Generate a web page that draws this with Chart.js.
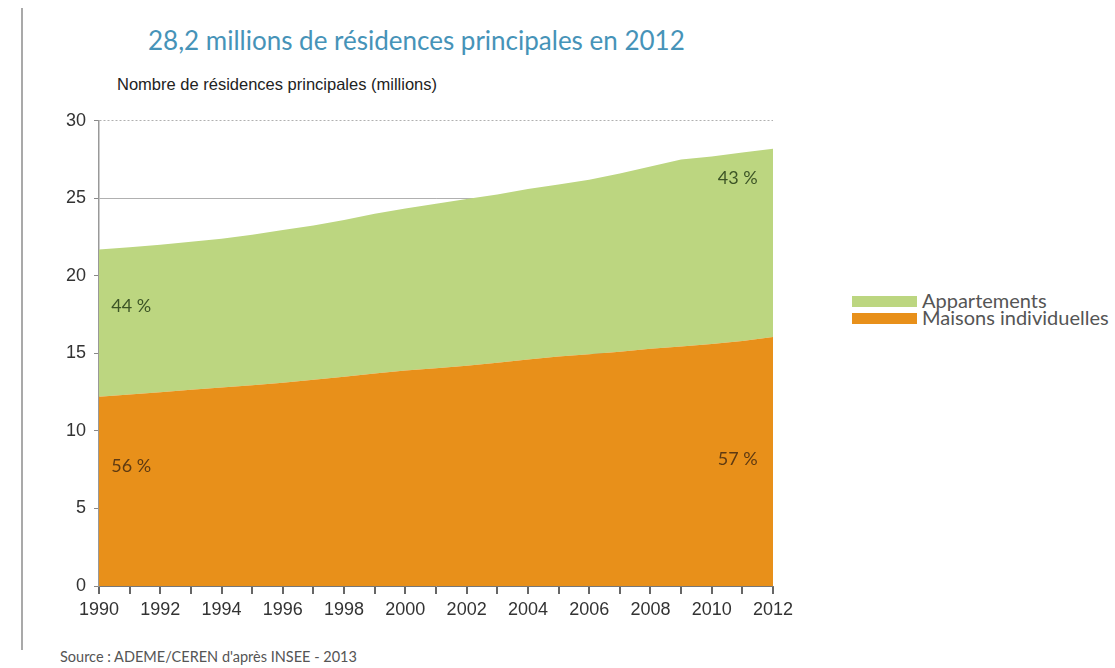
<!DOCTYPE html>
<html lang="fr">
<head>
<meta charset="utf-8">
<title>Résidences principales</title>
<script src="https://cdn.jsdelivr.net/npm/chart.js@4.4.1/dist/chart.umd.min.js"></script>
<style>
  html, body { margin: 0; padding: 0; background: #fff; }
  body { width: 1115px; height: 668px; position: relative; overflow: hidden; }
  .rule { position: absolute; left: 21px; top: 8px; width: 2px; height: 642px; background: #a9a9a9; }
  .title { position: absolute; left: 148px; top: 24px; font: 26px Lato, "Open Sans", sans-serif; color: #4693b8; white-space: nowrap; }
  .ytitle { position: absolute; left: 117px; top: 75px; font: 16.5px "Liberation Sans", Arial, sans-serif; color: #222; white-space: nowrap; }
  .source { position: absolute; left: 60px; top: 648px; font: 14.5px Lato, sans-serif; color: #555; white-space: nowrap; }
  .legend { position: absolute; left: 852px; top: 292px; font: 20px Lato, sans-serif; color: #555; }
  .legend div { height: 17px; line-height: 17px; white-space: nowrap; }
  .legend span { display: inline-block; width: 65px; height: 11px; margin-right: 5px; vertical-align: 1px; }
  #wrap { position: absolute; left: 40px; top: 102px; width: 780px; height: 524px; }
</style>
</head>
<body>
<div class="rule"></div>
<div class="title">28,2 millions de résidences principales en 2012</div>
<div class="ytitle">Nombre de résidences principales (millions)</div>
<div id="wrap"><canvas id="chart"></canvas></div>
<div class="legend">
  <div><span style="background:#bcd680"></span>Appartements</div>
  <div><span style="background:#e8901a"></span>Maisons individuelles</div>
</div>
<div class="source">Source : ADEME/CEREN d'après INSEE - 2013</div>

<script>
const years = ['1990','1991','1992','1993','1994','1995','1996','1997','1998','1999','2000',
  '2001','2002','2003','2004','2005','2006','2007','2008','2009','2010','2011','2012'];

// millions of main residences, by type
const maisons = [12.2, 12.35, 12.5, 12.65, 12.8, 12.95, 13.1, 13.3, 13.5, 13.7, 13.9,
  14.05, 14.2, 14.4, 14.6, 14.8, 14.95, 15.1, 15.3, 15.45, 15.6, 15.8, 16.05];
const appartements = [9.5, 9.5, 9.5, 9.55, 9.6, 9.7, 9.85, 9.95, 10.1, 10.3, 10.45,
  10.6, 10.75, 10.85, 11.0, 11.1, 11.25, 11.5, 11.75, 12.05, 12.1, 12.15, 12.15];

const yTicks = [0, 5, 10, 15, 20, 25, 30];

// share labels: [text, year index, y value, colour]
const shareLabels = [
  ['44 %', 1.05, 18.05, '#3d5526'],
  ['56 %', 1.05, 7.7, '#5e3a12'],
  ['43 %', 20.85, 26.3, '#3d5526'],
  ['57 %', 20.85, 8.15, '#5e3a12']
];

const shareLabelPlugin = {
  id: 'shareLabels',
  afterDatasetsDraw(chart) {
    const { ctx, scales: { x, y } } = chart;
    const x0 = x.getPixelForValue(0), x1 = x.getPixelForValue(1);
    ctx.save();
    ctx.font = '18px Lato, sans-serif';
    ctx.textAlign = 'center';
    ctx.textBaseline = 'middle';
    shareLabels.forEach(([txt, xi, v, col]) => {
      ctx.fillStyle = col;
      ctx.fillText(txt, x0 + (x1 - x0) * xi, y.getPixelForValue(v));
    });
    ctx.restore();
  }
};

const tickFont = { family: '"Liberation Sans", Arial, sans-serif', size: 18 };

new Chart(document.getElementById('chart'), {
  type: 'line',
  data: {
    labels: years,
    datasets: [
      {
        label: 'Maisons individuelles',
        data: maisons,
        backgroundColor: '#e8901a',
        borderWidth: 0,
        pointRadius: 0,
        fill: 'origin'
      },
      {
        label: 'Appartements',
        data: appartements,
        backgroundColor: '#bcd680',
        borderWidth: 0,
        pointRadius: 0,
        fill: '-1'
      }
    ]
  },
  options: {
    responsive: true,
    maintainAspectRatio: false,
    animation: false,
    layout: { padding: { top: 5, right: 47, left: 0, bottom: 0 } },
    plugins: {
      legend: { display: false },
      tooltip: { enabled: false }
    },
    scales: {
      x: {
        offset: false,
        afterFit(scale) { scale.height = 40; },
        grid: { drawOnChartArea: false, drawTicks: true, tickLength: 8, tickColor: '#666', lineWidth: 2 },
        border: { display: true, color: '#777', width: 1 },
        ticks: {
          autoSkip: false,
          maxRotation: 0,
          padding: 5,
          color: '#333',
          font: tickFont,
          callback: (v, i) => (i % 2 === 0 ? years[i] : '')
        }
      },
      y: {
        stacked: true,
        min: 0,
        max: 30,
        z: 1,
        afterFit(scale) { scale.width = 59; },
        afterBuildTicks(scale) { scale.ticks = yTicks.map(v => ({ value: v })); },
        grid: {
          color: ctx => (ctx.tick && ctx.tick.value === 0 ? 'rgba(0,0,0,0)' : 'rgba(80,80,80,0.45)'),
          lineWidth: 1,
          tickLength: 5,
          tickColor: '#888'
        },
        border: {
          display: true,
          color: '#999',
          width: 1.5,
          dash: ctx => (ctx.tick && (ctx.tick.value === 30 || ctx.tick.value === 20) ? [2, 2] : [])
        },
        ticks: {
          padding: 8,
          color: '#333',
          font: tickFont
        }
      }
    }
  },
  plugins: [shareLabelPlugin]
});
</script>
</body>
</html>
